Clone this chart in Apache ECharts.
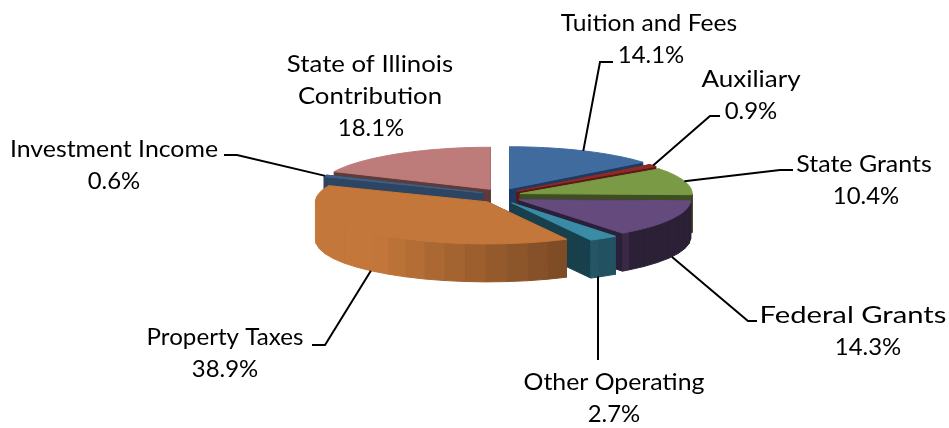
<!DOCTYPE html>
<html>
<head>
<meta charset="utf-8">
<style>html,body{margin:0;padding:0;background:#fff}#main{width:949px;height:428px}</style>
<script src="https://cdn.jsdelivr.net/npm/echarts@6/dist/echarts.min.js"></script>
</head>
<body>
<div id="main"></div>
<script>
// 数据
var categories = ['Tuition and Fees', 'Auxiliary', 'State Grants', 'Federal Grants', 'Other Operating', 'Property Taxes', 'Investment Income', 'State of Illinois\nContribution'];
var shares = [14.1, 0.9, 10.4, 14.3, 2.7, 38.9, 0.6, 18.1];

// 样式
var topColors = ['#3f6b9f', '#8e2b27', '#7a9a45', '#654a7d', '#3a8ca6', '#c4773a', '#3f5f82', '#bd7b7a'];
var cutColors = ['#1c3a66', '#5a1a18', '#3d4f20', '#2a2039', '#17404c', '#7a4a20', '#2c4563', '#5c3b3a'];

// 标签位置: [文字中心x, 第一行中心y, 折线起点x, 折线起点y, 拐点x, 拐点y, 横向拉伸, 百分比中心x]
var labelLayout = [
    [649, 24, 613, 62, 600, 62, 1.07, 651],
    [751, 80, 720, 116, 710, 116, 1.13, 751],
    [864, 165, 793, 170, 780, 170, 1.085, 866],
    [853, 316, 757, 321, 748, 321, 1.27, 868],
    [614, 383, 598, 360, 598, 340, 1.08, 614],
    [225, 338, 312, 345, 325, 345, 1.05, 225],
    [114, 150, 224, 155, 237, 155, 1.08, 114],
    [370, 65, 0, 0, 0, 0, 1.12, 371]
];

var pie = {cx: 501, cy: 196, rx: 172, ry: 42, depth: 38, ex: 20, ey: 8};
var rad = Math.PI / 180;
var lineGap = 32;

var total = shares.reduce(function (a, b) { return a + b; }, 0);
var starts = [];
shares.reduce(function (sum, v, i) { starts[i] = sum; return sum + v; }, 0);

function shade(hex, k) {
    var n = parseInt(hex.slice(1), 16);
    var r = Math.round((n >> 16 & 255) * k), g = Math.round((n >> 8 & 255) * k), b = Math.round((n & 255) * k);
    return 'rgb(' + r + ',' + g + ',' + b + ')';
}
// 侧面明暗随角度变化
function wallShade(deg) {
    if (deg >= 220) return 1;
    if (deg >= 170) return 0.72 + (deg - 170) / 50 * 0.28;
    if (deg >= 140) return 0.55 + (deg - 140) / 30 * 0.17;
    return 0.43;
}
function labelText(text, x, y, sx) {
    return {
        type: 'text', z2: 900,
        x: x, y: y, scaleX: sx,
        style: {
            text: text, x: 0, y: 0,
            align: 'center', verticalAlign: 'top',
            lineHeight: lineGap,
            font: '23px Lato',
            fill: '#000'
        }
    };
}

function renderSlice(params, api) {
    var i = params.dataIndex;
    var a0 = starts[i] / total * 360, a1 = (starts[i] + api.value(0)) / total * 360, mid = (a0 + a1) / 2;
    var ox = pie.cx + pie.ex * Math.sin(mid * rad), oy = pie.cy - pie.ey * Math.cos(mid * rad);
    var edge = function (d, dy) {
        return [ox + pie.rx * Math.sin(d * rad), oy - pie.ry * Math.cos(d * rad) + (dy || 0)];
    };
    // 越靠前的扇区越后画
    var lowest = Math.max(oy, edge(a0)[1], edge(a1)[1], a0 < 180 && a1 > 180 ? oy + pie.ry : 0);
    var z = Math.round(lowest);
    var children = [];
    var poly = function (points, color) {
        children.push({type: 'polygon', z2: z, shape: {points: points}, style: {fill: color, stroke: color, lineWidth: 1}});
    };

    // 切面
    poly([[ox, oy], edge(a0), edge(a0, pie.depth), [ox, oy + pie.depth]], cutColors[i]);
    poly([[ox, oy], edge(a1), edge(a1, pie.depth), [ox, oy + pie.depth]], cutColors[i]);

    // 外侧面 (只画朝前的部分, 分段着色)
    var w0 = Math.max(a0, 90), w1 = Math.min(a1, 270), step = 7;
    for (var d = w0; d < w1; d += step) {
        var e = Math.min(d + step, w1);
        poly([edge(d), edge(e), edge(e, pie.depth), edge(d, pie.depth)], shade(topColors[i], wallShade((d + e) / 2)));
    }

    // 顶面
    var points = [[ox, oy]];
    for (var t = a0; t < a1; t += 2) points.push(edge(t));
    points.push(edge(a1));
    poly(points, topColors[i]);

    // 标签和引导线
    var lay = labelLayout[i];
    var nameLines = categories[i].split('\n').length;
    children.push(labelText(categories[i], lay[0], lay[1] - lineGap / 2, lay[6]));
    children.push(labelText(api.value(0).toFixed(1) + '%', lay[7], lay[1] - lineGap / 2 + nameLines * lineGap, 1.04));
    if (lay[2]) {
        var front = mid > 90 && mid < 270;
        var end = edge(mid, front ? pie.depth : 0);
        // 竖直的引导线保持竖直
        if (lay[2] === lay[4]) end = [lay[4], end[1]];
        children.push({
            type: 'polyline', z2: 899,
            shape: {points: [[lay[2], lay[3]], [lay[4], lay[5]], end]},
            style: {fill: 'none', stroke: '#000', lineWidth: 2}
        });
    }
    return {type: 'group', children: children};
}

var myChart = echarts.init(document.getElementById('main'), null, {renderer: 'canvas'});
var option = {
    backgroundColor: '#fff',
    animation: false,
    series: [{
        type: 'custom',
        coordinateSystem: 'none',
        silent: true,
        renderItem: renderSlice,
        data: shares.map(function (v) { return [v]; })
    }]
};
myChart.setOption(option);
</script>
</body>
</html>
